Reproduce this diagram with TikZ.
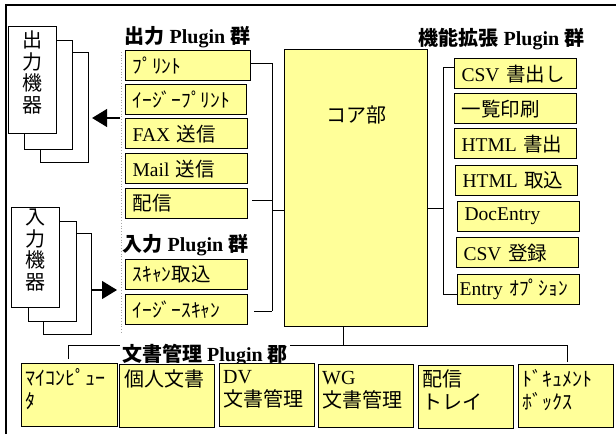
\documentclass[tikz,border=0pt]{standalone}
\usepackage{fontspec}
\setmainfont{Liberation Serif}
\newfontfamily\jp{Noto Sans CJK JP}
\newcommand\J[1]{{\jp #1}}
\newcommand\boxfont{\fontsize{19.5}{22}\selectfont}
\newcommand\docfont{\fontsize{20}{23}\selectfont}
\newcommand\headfont{\fontsize{20}{22}\selectfont\bfseries}
\newcommand\devfont{\fontsize{20}{21.5}\selectfont\jp}
\usetikzlibrary{arrows.meta}
\definecolor{plugyellow}{HTML}{FFFF99}

\begin{document}
\begin{tikzpicture}[x=1pt,y=-1pt,
  plug/.style={draw=black, line width=1.2pt, fill=plugyellow, anchor=north west,
    minimum height=30pt, text width=108pt, inner xsep=7pt, inner ysep=0pt,
    align=left, font=\boxfont},
  core/.style={draw=black, line width=1.2pt, fill=plugyellow},
  docbox/.style={draw=black, line width=1.2pt, fill=plugyellow, anchor=north west,
    minimum width=95pt, minimum height=63pt, inner sep=0pt},
  doctext/.style={anchor=north west, align=left, inner sep=0pt, font=\docfont},
  dev/.style={draw=black, line width=1.1pt, fill=white, anchor=north west,
    minimum width=48pt, inner sep=0pt},
  devtext/.style={anchor=north, align=center, inner sep=0pt, font=\devfont},
  head/.style={inner sep=1.5pt, font=\headfont},
  conn/.style={draw=black, line width=1pt},
  bigarrow/.style={draw=black, line width=1.2pt, -{Triangle[length=15pt,width=18pt]}},
]
\useasboundingbox (0,0) rectangle (616,434);

% outer frame (top and left edges)
\draw[line width=2.5pt] (6,434) -- (6,5) -- (616,5);

% ---- output devices (stacked sheets, back to front)
\node[dev, minimum height=110pt] (od3) at (40,52) {};
\node[dev, minimum height=109pt] (od2) at (24,40) {};
\node[dev, minimum height=107pt] (od1) at (8,26) {};
\node[devtext] (od1t) at ([yshift=-5pt]od1.north) {出\\力\\機\\器};

% ---- input devices
\node[dev, minimum height=101pt] (id3) at (43,233) {};
\node[dev, minimum height=100pt] (id2) at (28,221) {};
\node[dev, minimum height=100pt] (id1) at (11,207) {};
\node[devtext] (id1t) at ([yshift=-2pt]id1.north) {入\\力\\機\\器};

% ---- dotted separator of the I/O plugin column
\coordinate (sepTop) at (121,52);
\coordinate (sepBot) at (121,333);
\draw[gray!70, dotted, line width=0.8pt] (sepTop) -- (sepBot);

% ---- headers
\node[head, anchor=west] (hout) at (123,37) {\J{出力} Plugin \J{群}};
\node[head, anchor=west] (hin) at (121,245) {\J{入力} Plugin \J{群}};
\node[head, anchor=west] (hext) at (417,39) {\J{機能拡張} Plugin \J{群}};

% ---- output plugins
\node[plug, text width=111pt] (p1) at (125,50) {\J{ﾌﾟﾘﾝﾄ}};
\node[plug, text width=107pt] (p2) at (125,84) {\J{ｲｰｼﾞｰﾌﾟﾘﾝﾄ}};
\node[plug] (p3) at (125,118) {FAX \J{送信}};
\node[plug] (p4) at (125,153) {Mail \J{送信}};
\node[plug] (p5) at (125,188) {\J{配信}};

% ---- input plugins
\node[plug] (q1) at (125,259) {\J{ｽｷｬﾝ取込}};
\node[plug] (q2) at (125,294) {\J{ｲｰｼﾞｰｽｷｬﾝ}};

% ---- core
\node[core, minimum width=143pt, minimum height=277pt, anchor=north west] (core) at (284,49) {};
\node[font=\fontsize{20}{22}\selectfont\jp] (coret) at (356,115) {コア部};

% ---- extension plugins
\node[plug] (e1) at (454,58) {CSV \J{書出し}};
\node[plug] (e2) at (454,93) {\J{一覧印刷}};
\node[plug] (e3) at (454,128) {HTML \J{書出}};
\node[plug] (e4) at (455,165) {HTML \J{取込}};
\node[plug] (e5) at (457,201) {DocEntry};
\node[plug] (e6) at (456,237) {CSV \J{登録}};
\node[plug, inner xsep=2pt, text width=118pt] (e7) at (457,274) {Entry \J{ｵﾌﾟｼｮﾝ}};

% ---- left bus: I/O plugins to core
\coordinate (lbTop) at (272,63);
\coordinate (lbBot) at (272,311);
\coordinate (lbCore) at (272,210);
\draw[conn] (p1.east |- lbTop) -- (lbTop) -- (lbBot);
\draw[conn] ([xshift=4pt]p5.east |- 0,200) -- (lbCore |- 0,200);
\draw[conn] ([xshift=6pt]q2.east |- lbBot) -- (lbBot);
\draw[conn] (lbCore) -- (core.west |- lbCore);

% ---- right bus: core to extension plugins
\coordinate (rbTop) at (443,67);
\coordinate (rbBot) at (443,294);
\coordinate (rbCore) at (443,208);
\draw[conn] (e1.west |- rbTop) -- (rbTop) -- (rbBot) -- (e7.west |- rbBot);
\draw[conn] (core.east |- rbCore) -- (rbCore);

% ---- bottom bus: core to document plugins
\coordinate (bbCore) at (343,345);
\coordinate (bbLeft) at (68,345);
\coordinate (bbRight) at (567,345);
\draw[conn] (core.south -| bbCore) -- (bbCore);
\draw[conn] (68,359) -- (bbLeft) -- (bbRight) -- (567,362);
\node[head, fill=white, inner xsep=2pt, inner ysep=1pt, anchor=west] (hdoc) at (120,355)
  {\J{文書管理} Plugin \J{郡}};

% ---- document plugins
\node[docbox, minimum width=96pt] (d1) at (21,363) {};
\node[doctext] (d1t) at ([shift={(4pt,-5pt)}]d1.north west) {\J{ﾏｲｺﾝﾋﾟｭｰ}\\\J{ﾀ}};
\node[docbox] (d2) at (119,364) {};
\node[doctext] (d2t) at ([shift={(5pt,-5pt)}]d2.north west) {\J{個人文書}};
\node[docbox] (d3) at (219,363) {};
\node[doctext] (d3t) at ([shift={(4pt,-7pt)}]d3.north west) {DV\\\J{文書管理}};
\node[docbox] (d4) at (318,364) {};
\node[doctext] (d4t) at ([shift={(4pt,-7pt)}]d4.north west) {WG\\\J{文書管理}};
\node[docbox] (d5) at (418,365) {};
\node[doctext] (d5t) at ([shift={(4pt,-5pt)}]d5.north west) {\J{配信}\\\J{トレイ}};
\node[docbox] (d6) at (518,364) {};
\node[doctext] (d6t) at ([shift={(4pt,-5pt)}]d6.north west) {\J{ﾄﾞｷｭﾒﾝﾄ}\\\J{ﾎﾞｯｸｽ}};

% ---- device arrows
\coordinate (outSrc) at (120,118);
\draw[bigarrow] (outSrc) -- ([xshift=3pt]od3.east |- outSrc);
\coordinate (inDst) at (117,290);
\draw[bigarrow] (id3.east |- inDst) -- (inDst);
\end{tikzpicture}
\end{document}
